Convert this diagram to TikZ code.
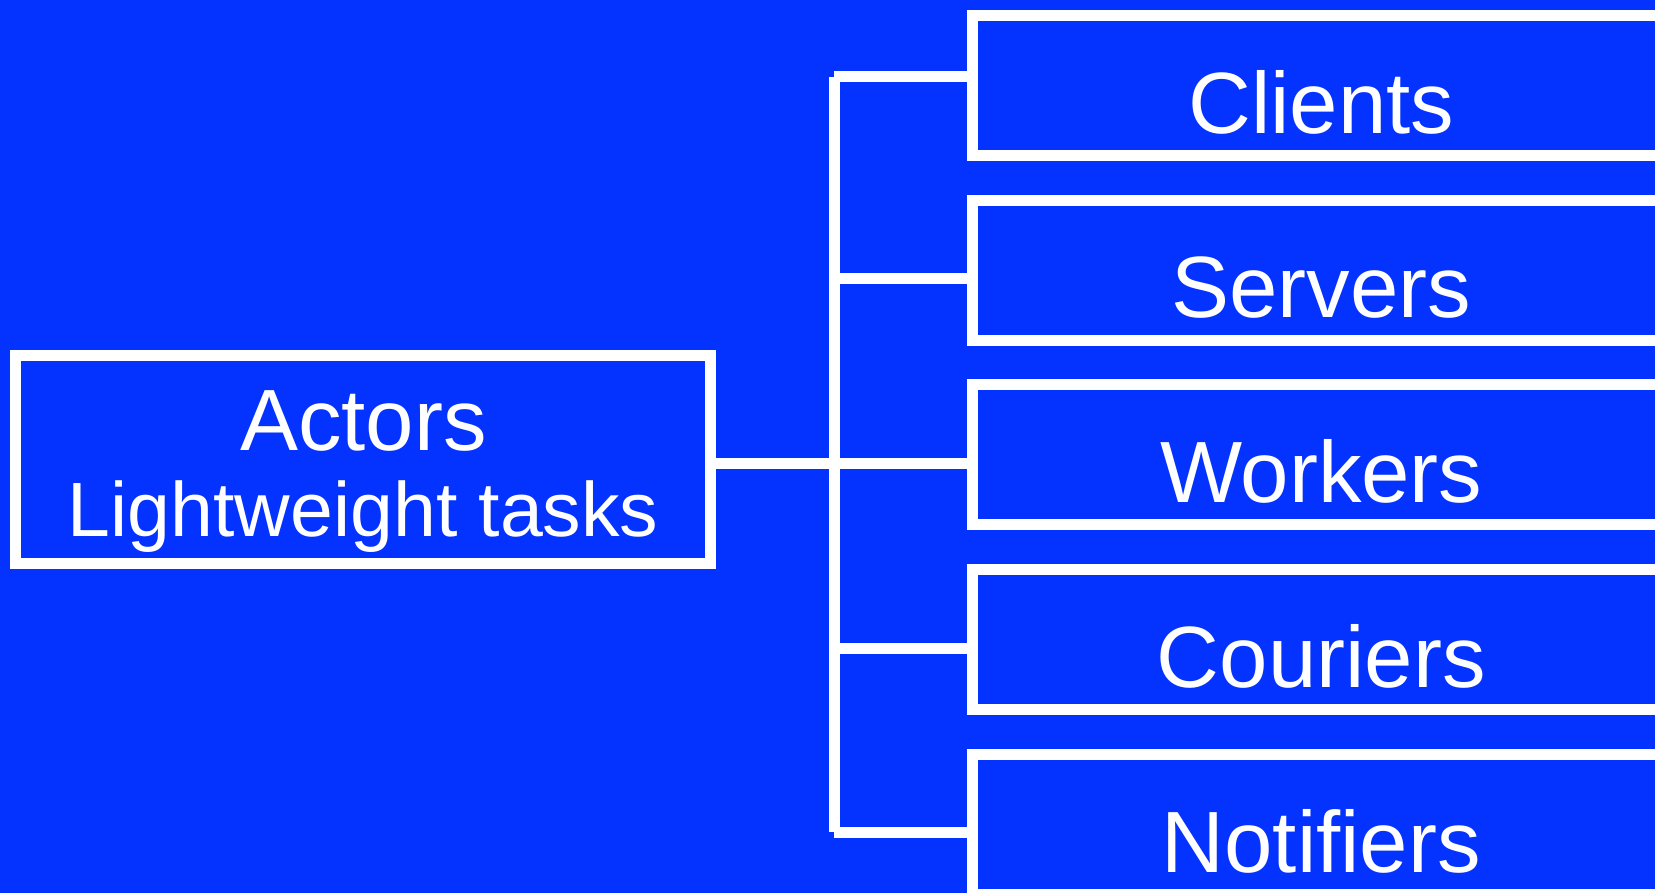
\documentclass[tikz,border=0pt]{standalone}
\usepackage{fontspec}
\setmainfont{Liberation Sans}
\definecolor{slideblue}{RGB}{4,51,255}
\begin{document}
\begin{tikzpicture}[x=1pt,y=-1pt,
  wire/.style={white,line width=11pt,line cap=butt},
  box/.style={draw=white,line width=11pt,rectangle,inner sep=0pt},
  biglabel/.style={white,anchor=base,inner sep=0pt,font=\fontsize{87}{100}\selectfont},
  sublabel/.style={white,anchor=base,inner sep=0pt,font=\fontsize{77}{90}\selectfont}]
  % canvas
  \fill[slideblue] (0,0) rectangle (1655,893);
  \useasboundingbox (0,0) rectangle (1655,893);

  % root box
  \node[box,minimum width=694.9pt,minimum height=208.3pt] (actors) at (363.25,459.65) {};
  \node[biglabel] (actors-t) at (363.3,450) {Actors};
  \node[sublabel] (actors-s) at (363.3,536.7) {Lightweight tasks};

  % child boxes (they run past the right edge)
  \foreach \n/\t/\i in {clients/Clients/0,servers/Servers/1,workers/Workers/2,couriers/Couriers/3,notifiers/Notifiers/4}{
    \node[box,minimum width=720pt,minimum height=140pt] (\n) at (1332.6,{85.5+184.7*\i}) {};
    \node[biglabel] (\n-t) at (1321.3,{133.3+184.7*\i}) {\t};
  }

  % junction points on the trunk
  \coordinate (j1) at (834,77);
  \coordinate (j2) at (834,278.7);
  \coordinate (j3) at (834,463);
  \coordinate (j4) at (834,648);
  \coordinate (j5) at (834,832);

  % trunk and branches
  \draw[wire] (j1) -- (j5);
  \draw[wire] (j1) -- (clients.west |- j1);
  \draw[wire] (j2) -- (servers.west |- j2);
  \draw[wire] (actors.east |- j3) -- (workers.west |- j3);
  \draw[wire] (j4) -- (couriers.west |- j4);
  \draw[wire] (j5) -- (notifiers.west |- j5);
\end{tikzpicture}
\end{document}
